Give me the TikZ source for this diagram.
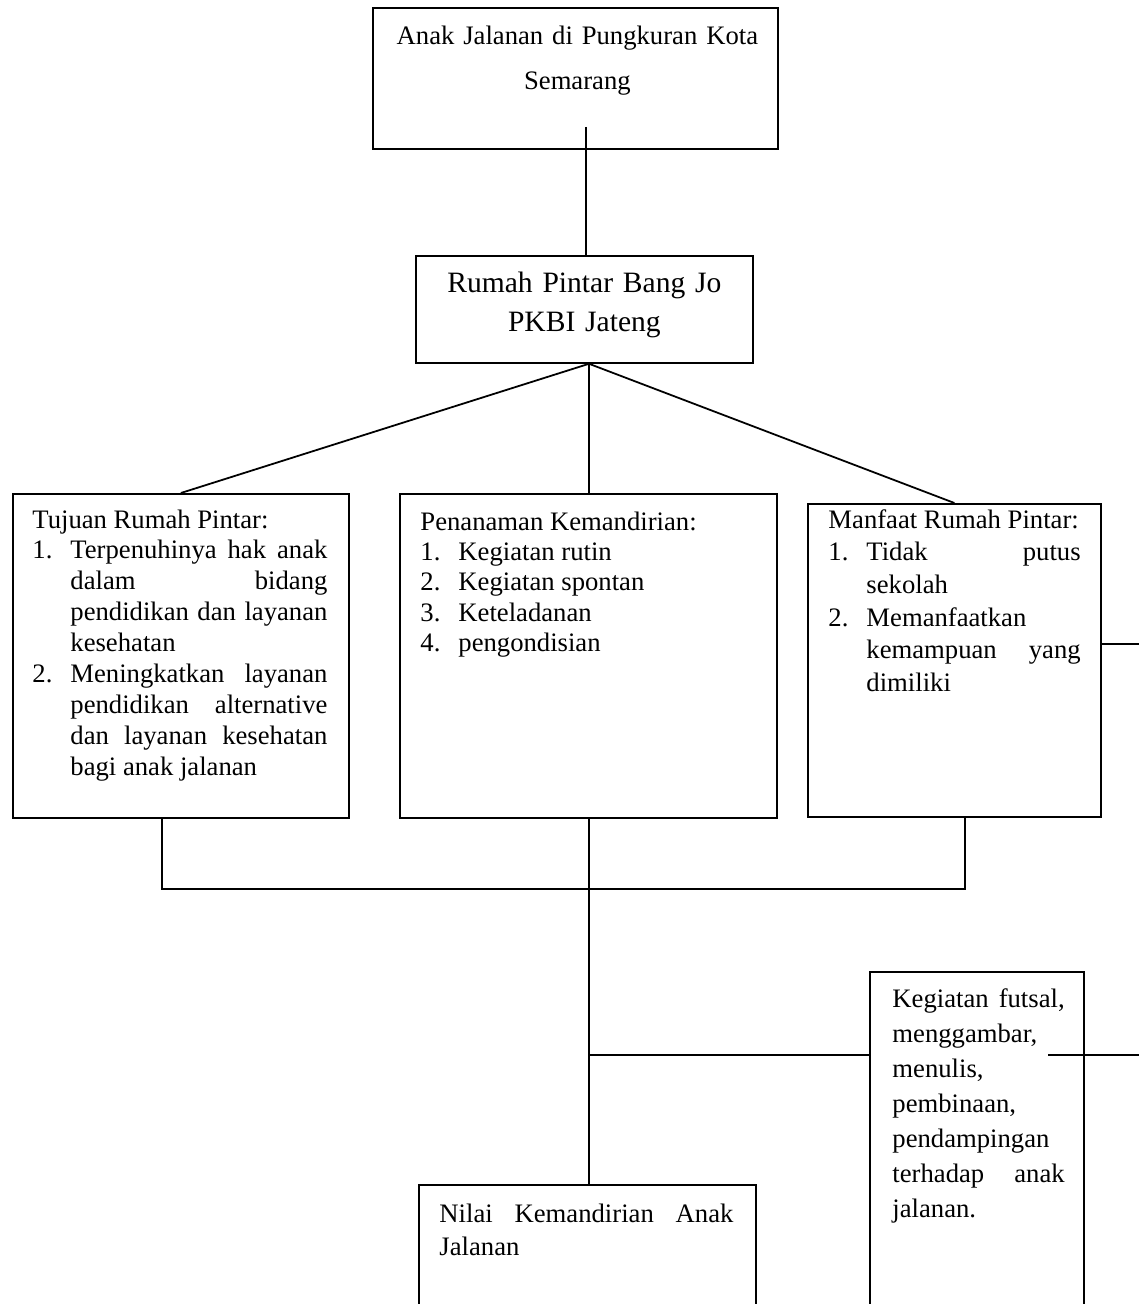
\documentclass[tikz,border=0pt]{standalone}
\usepackage{fontspec}
\setmainfont{Liberation Serif}
\tolerance=10000
\hbadness=10000
\hyphenpenalty=10000
\newcommand{\butir}[2]{\par\hangindent=17.1pt\hangafter=1\noindent\makebox[17.1pt][l]{#1}#2\par}

\begin{document}
\begin{tikzpicture}[x=0.45pt, y=-0.45pt,
  kotak/.style={draw, line width=0.8pt, anchor=north west, inner sep=0pt},
  teks/.style={inner sep=0pt, anchor=base west, align=justify},
  garis/.style={line width=0.8pt}]
  \useasboundingbox (0,0) rectangle (1139,1304);
  \clip (0,0) rectangle (1139,1304);
  % kotak
  \node[kotak, minimum width=182.25pt, minimum height=63.45pt] (judul) at (372,7) {};
  \node[kotak, minimum width=151.65pt, minimum height=48.15pt] (rumah) at (415,255) {};
  \node[kotak, minimum width=151.2pt, minimum height=145.8pt] (tujuan) at (12,493) {};
  \node[kotak, minimum width=169.65pt, minimum height=145.8pt] (penanaman) at (399,493) {};
  \node[kotak, minimum width=131.85pt, minimum height=140.85pt] (manfaat) at (807,503) {};
  \node[kotak, minimum width=96.3pt, minimum height=161.55pt] (kegiatan) at (869,971) {};
  \node[kotak, minimum width=151.65pt, minimum height=65.7pt] (nilai) at (418,1184) {};
  % teks
  \node[inner sep=0pt, anchor=base, align=center, text width=180pt, font=\fontsize{12}{20.25}\selectfont]
    (teks-judul) at ([shift={(2,38)}]judul.north) {Anak Jalanan di Pungkuran Kota\\ Semarang};
  \node[inner sep=0pt, anchor=base, align=center, text width=150pt, font=\fontsize{13.3}{17.5}\selectfont]
    (teks-rumah) at ([shift={(0,38)}]rumah.north) {Rumah Pintar Bang Jo\\ PKBI Jateng};
  \node[teks, text width=132.75pt, font=\fontsize{12}{13.9}\selectfont]
    (teks-tujuan) at ([shift={(20,35)}]tujuan.north west) {Tujuan Rumah Pintar:
    \butir{1.}{Terpenuhinya hak anak\linebreak dalam bidang\linebreak pendidikan dan layanan\linebreak kesehatan}
    \butir{2.}{Meningkatkan layanan\linebreak pendidikan alternative\linebreak dan layanan kesehatan\linebreak bagi anak jalanan}};
  \node[teks, text width=150.75pt, font=\fontsize{12}{13.7}\selectfont]
    (teks-penanaman) at ([shift={(21,37)}]penanaman.north west) {Penanaman Kemandirian:
    \butir{1.}{Kegiatan rutin}\butir{2.}{Kegiatan spontan}\butir{3.}{Keteladanan}\butir{4.}{pengondisian}};
  \node[teks, text width=113.5pt, font=\fontsize{12}{14.7}\selectfont]
    (teks-manfaat) at ([shift={(21,25)}]manfaat.north west) {Manfaat Rumah Pintar:
    \butir{1.}{Tidak putus\linebreak sekolah}
    \butir{2.}{Memanfaatkan\linebreak kemampuan yang\linebreak dimiliki}};
  \node[teks, text width=77.5pt, font=\fontsize{12}{15.8}\selectfont]
    (teks-kegiatan) at ([shift={(23,36)}]kegiatan.north west) {Kegiatan futsal,\linebreak menggambar,\linebreak
    menulis,\linebreak pembinaan,\linebreak pendampingan\linebreak terhadap anak\linebreak jalanan.};
  \node[teks, text width=132.3pt, font=\fontsize{12}{15}\selectfont]
    (teks-nilai) at ([shift={(21,38)}]nilai.north west) {Nilai Kemandirian Anak\linebreak Jalanan};
  % garis penghubung
  \coordinate (ujung1) at (586,127);
  \coordinate (busL) at (162,889);
  \coordinate (busM) at (589,889);
  \coordinate (busR) at (965,889);
  \coordinate (pusat) at (busM |- rumah.south);
  \coordinate (cabang) at (589,1055);
  \coordinate (ujung2) at (1048,1055);
  \coordinate (tepi1) at (1139,644);
  \coordinate (tepi2) at (1139,1055);
  \draw[garis] (ujung1) -- (ujung1 |- rumah.north);
  \draw[garis] (pusat) -- (tujuan.north);
  \draw[garis] (pusat) -- (busM |- penanaman.north);
  \draw[garis] (pusat) -- (manfaat.north);
  \draw[garis] (tujuan.south -| busL) -- (busL) -- (busR) -- (manfaat.south -| busR);
  \draw[garis] (busM |- penanaman.south) -- (busM |- nilai.north);
  \draw[garis] (cabang) -- (cabang -| kegiatan.west);
  \draw[garis] (ujung2) -- (tepi2);
  \draw[garis] (tepi1 -| manfaat.east) -- (tepi1);
\end{tikzpicture}
\end{document}
